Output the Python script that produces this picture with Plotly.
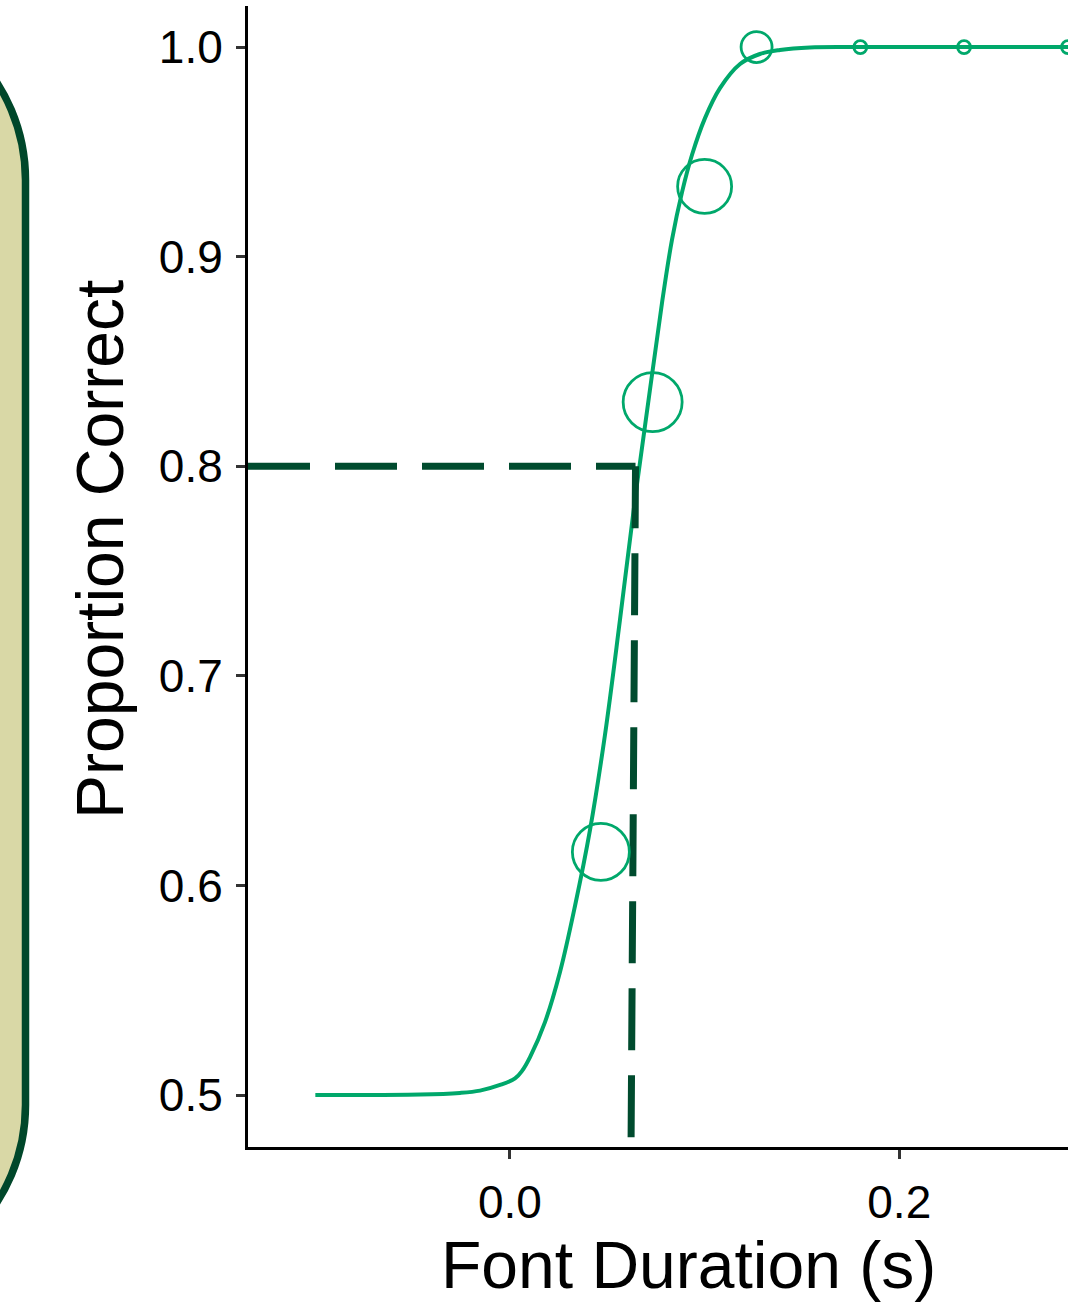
import plotly.graph_objects as go

# ---------------- data ----------------
curve_x = [-0.1, -0.0462, -0.0257, -0.0154, -0.0051, 0.0026, 0.0062, 0.0103, 0.0180, 0.0257,
           0.0334, 0.0411, 0.0488, 0.0565, 0.0642, 0.0719, 0.0781, 0.0832, 0.0884, 0.0935,
           0.1002, 0.1079, 0.1182, 0.1284, 0.1387, 0.1541, 0.1747, 0.2, 0.25, 0.3]
curve_y = [0.5, 0.5002, 0.5010, 0.5021, 0.5048, 0.5079, 0.5115, 0.5181, 0.5348, 0.5587,
           0.5902, 0.6264, 0.6718, 0.7266, 0.7839, 0.8364, 0.8779, 0.9079, 0.9308, 0.9485,
           0.9661, 0.9804, 0.9919, 0.9967, 0.9986, 0.9998, 1.0, 1.0, 1.0, 1.0]

obs_x = [0.0467, 0.0733, 0.1, 0.1267, 0.18, 0.2333, 0.2867]
obs_y = [0.616, 0.8306, 0.9335, 1.0, 1.0, 1.0, 1.0]
obs_n = [57, 59, 54, 31, 13, 13, 13]   # marker diameters (trial weight)

threshold_level = 0.8
threshold_x_top = 0.0645
threshold_x_bottom = 0.0622

x_ticks = [0.0, 0.2]
x_ticktext = ["0.0", "0.2"]
y_ticks = [0.5, 0.6, 0.7, 0.8, 0.9, 1.0]
y_ticktext = ["0.5", "0.6", "0.7", "0.8", "0.9", "1.0"]

x_title = "Font Duration (s)"
y_title = "Proportion Correct"

# ---------------- style / layout ----------------
W, H = 1068, 1305
L, R, T, B = 248, 0, 6, 158
PW, PH = W - L - R, H - T - B
XR = [-0.1346, 0.2867]
YR = [0.4752, 1.0196]

GREEN = "#00A86B"
DARK = "#004B2E"
FONT = "Liberation Sans, Arial, Helvetica, sans-serif"


def px(x, y):
    return (x - L) / PW, (H - B - y) / PH


fig = go.Figure()

fig.add_trace(go.Scatter(
    x=curve_x, y=curve_y, mode="lines",
    line=dict(color=GREEN, width=4, shape="spline", smoothing=1.0),
    hoverinfo="skip", showlegend=False))

fig.add_trace(go.Scatter(
    x=[XR[0], threshold_x_top], y=[threshold_level, threshold_level], mode="lines",
    line=dict(color=DARK, width=7, dash="62px,25px"), showlegend=False))
fig.add_trace(go.Scatter(
    x=[threshold_x_top, threshold_x_bottom], y=[threshold_level, YR[0]], mode="lines",
    line=dict(color=DARK, width=7, dash="62px,25px"), showlegend=False))

fig.add_trace(go.Scatter(
    x=obs_x, y=obs_y, mode="markers",
    marker=dict(symbol="circle-open", size=obs_n, color=GREEN, opacity=1,
                line=dict(width=2.8, color=GREEN)),
    showlegend=False))

# rounded panel on the left (part of a composite figure)
r = 180
k = 0.5523 * r
xe = 25.5
top, bot = 0, 1285
pts = [(-400, top), (xe - r, top), (xe - r + k, top), (xe, top + r - k), (xe, top + r),
       (xe, bot - r), (xe, bot - r + k), (xe - r + k, bot), (xe - r, bot), (-400, bot)]
P = [px(a, b) for a, b in pts]
path = (f"M {P[0][0]},{P[0][1]} L {P[1][0]},{P[1][1]} "
        f"C {P[2][0]},{P[2][1]} {P[3][0]},{P[3][1]} {P[4][0]},{P[4][1]} "
        f"L {P[5][0]},{P[5][1]} "
        f"C {P[6][0]},{P[6][1]} {P[7][0]},{P[7][1]} {P[8][0]},{P[8][1]} "
        f"L {P[9][0]},{P[9][1]} Z")
fig.add_shape(type="path", path=path, xref="paper", yref="paper",
              fillcolor="#D9D8A6", line=dict(color="#00472A", width=7.5), layer="above")

ax_common = dict(showgrid=False, zeroline=False, showline=True, linecolor="black", linewidth=3,
                 ticks="outside", ticklen=9, tickwidth=3, tickcolor="#333333",
                 tickfont=dict(family=FONT, size=46, color="black"))

fig.update_layout(
    width=W, height=H,
    margin=dict(l=L, r=R, t=T, b=B, pad=0),
    paper_bgcolor="white", plot_bgcolor="white",
    xaxis=dict(range=XR, tickvals=x_ticks, ticktext=x_ticktext, ticklabelstandoff=4, **ax_common),
    yaxis=dict(range=YR, tickvals=y_ticks, ticktext=y_ticktext, ticklabelstandoff=4, **ax_common),
    annotations=[
        dict(text=x_title, xref="paper", yref="paper", x=px(688, 0)[0], y=px(0, 1304)[1],
             xanchor="center", yanchor="bottom", showarrow=False,
             font=dict(family=FONT, size=66, color="black")),
        dict(text=y_title, xref="paper", yref="paper", x=px(100, 0)[0], y=px(0, 550)[1],
             xanchor="center", yanchor="middle", showarrow=False, textangle=-90,
             font=dict(family=FONT, size=66, color="black")),
    ],
)

fig.write_html("out.html", config={"displayModeBar": False},
               post_script="document.body.style.margin='0';document.body.style.overflow='hidden';")
